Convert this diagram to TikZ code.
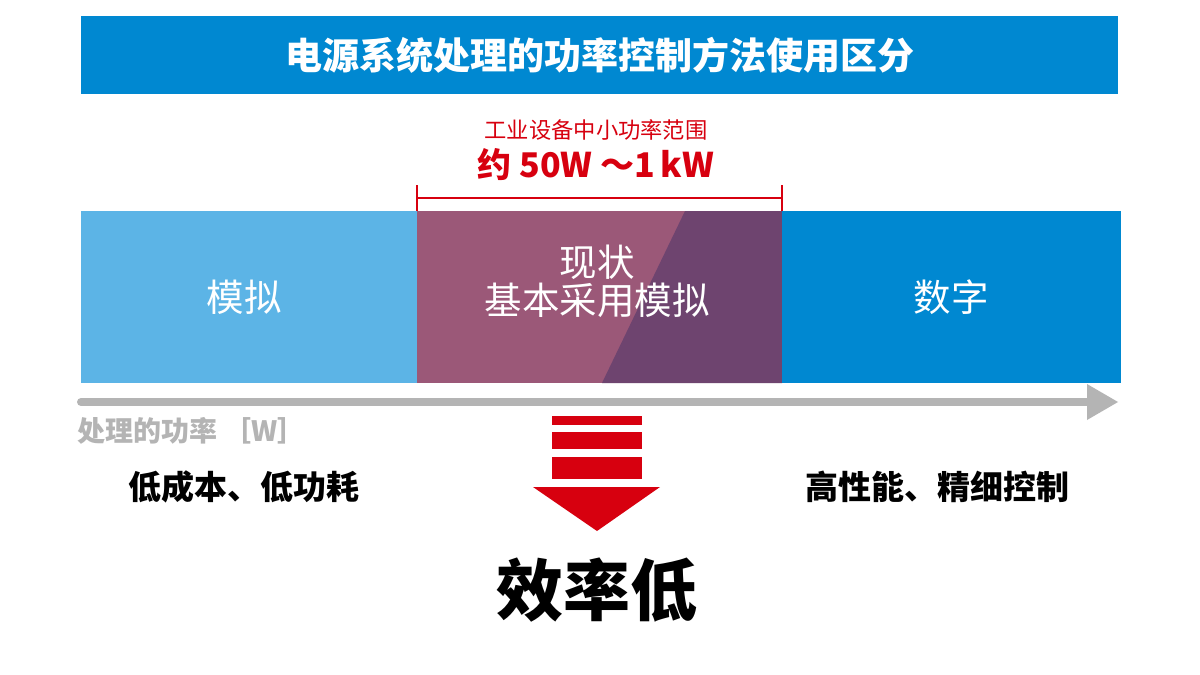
\documentclass[tikz,border=0pt]{standalone}
\usepackage{fontspec}
\setmainfont{Noto Sans CJK SC}
\definecolor{deepblue}{HTML}{0088D1}
\definecolor{lightblue}{HTML}{5CB4E6}
\definecolor{mauve}{HTML}{9B5878}
\definecolor{plum}{HTML}{6E446F}
\definecolor{accentred}{HTML}{D7000F}
\definecolor{axisgray}{HTML}{B4B4B4}
\tikzset{
  whitetxt/.style={text=white, font=\fontsize{37.5}{38}\selectfont, align=center, inner sep=0pt},
  boldtxt/.style={text=black, font=\bfseries\fontsize{33}{36}\selectfont, inner sep=0pt},
  redbar/.style={fill=accentred, draw=none}
}
\begin{document}
\begin{tikzpicture}[x=1pt,y=-1pt]
\useasboundingbox (0,0) rectangle (1200,675);
\fill[white] (0,0) rectangle (1200,675);
% title bar
\fill[deepblue] (81,16) rectangle (1118,94);
\node[text=white, font=\bfseries\fontsize{37}{40}\selectfont, inner sep=0pt] (title) at (600,55) {电源系统处理的功率控制方法使用区分};
% range labels
\node[text=accentred, font=\fontsize{22.3}{25}\selectfont, inner sep=0pt] (range) at (596,130) {工业设备中小功率范围};
\node[text=accentred, font=\bfseries\fontsize{34}{36}\selectfont, inner sep=0pt] (rangeval) at (596,165) {约 50W ～1\,kW};
% bracket
\coordinate (bl) at (417,198);
\coordinate (br) at (782,198);
\draw[accentred, line width=2pt] (bl) -- (br);
\draw[accentred, line width=2pt] ([yshift=-15pt]bl) -- ([yshift=13pt]bl);
\draw[accentred, line width=2pt] ([yshift=-15pt]br) -- ([yshift=13pt]br);
% bar segments
\fill[lightblue] (81,211) rectangle (417,383);
\fill[mauve] (417,211) rectangle (782,383);
\fill[plum] (685,211) -- (782,211) -- (782,383) -- (602,383) -- cycle;
\fill[deepblue] (782,211) rectangle (1121,383);
\node[whitetxt] (analog) at (244,297) {模拟};
\node[whitetxt] (digital) at (951,297) {数字};
\node[whitetxt] (current) at (597,281) {现状\\基本采用模拟};
% axis
\coordinate (axs) at (81,402);
\coordinate (axe) at (1088,402);
\draw[axisgray, line width=8pt, line cap=round] (axs) -- (axe);
\fill[axisgray] (1087,384) -- (1118,402) -- (1087,420) -- cycle;
\node[text=axisgray, font=\bfseries\fontsize{28}{30}\selectfont, anchor=west, inner sep=0pt] (axlabel) at (77,431) {处理的功率\hspace{6pt}［W］};
% red arrow
\fill[redbar] (552,416) rectangle (642,425);
\fill[redbar] (552,432) rectangle (642,449);
\fill[redbar] (552,457) rectangle (642,479);
\fill[redbar] (533,487) -- (660,487) -- (597,531) -- cycle;
% bottom texts
\node[boldtxt] (low) at (244,487) {低成本、低功耗};
\node[boldtxt] (high) at (937,487) {高性能、精细控制};
\node[text=black, font=\bfseries\fontsize{67}{70}\selectfont, inner sep=0pt] (eff) at (597,590) {效率低};
\end{tikzpicture}
\end{document}
